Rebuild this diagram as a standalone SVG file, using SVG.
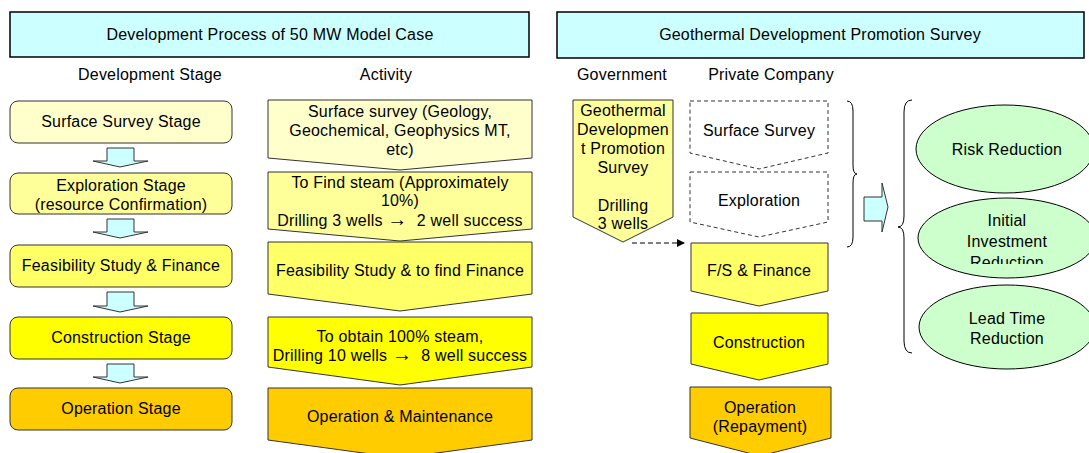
<svg xmlns="http://www.w3.org/2000/svg" width="1089" height="453" viewBox="0 0 1089 453">
<style>
text{font-family:"Liberation Sans",Arial,sans-serif;font-size:16px;letter-spacing:0.2px;fill:#000;text-anchor:middle}
.pre{white-space:pre}
.hdr{fill:#CCFFFF;stroke:#000;stroke-width:1.5}
.st{stroke:#333;stroke-width:1}
.dash{fill:#fff;stroke:#333;stroke-width:1;stroke-dasharray:4,3}
.c1{fill:#FFFFCC}.c2{fill:#FFFF99}.c3{fill:#FFFF66}.c4{fill:#FFFF00}.c5{fill:#FFCC00}
.cy{fill:#CCFFFF;stroke:#333;stroke-width:1}
.gr{fill:#CCFFCC;stroke:#000;stroke-width:1}
.br{fill:none;stroke:#000;stroke-width:1}
</style>
<defs>
<clipPath id="govClip"><rect x="570" y="95" width="110" height="136"/></clipPath>
<clipPath id="invClip"><rect x="900" y="195" width="189" height="69"/></clipPath>
<marker id="ah" markerWidth="8" markerHeight="8" refX="7" refY="4" orient="auto" markerUnits="userSpaceOnUse"><path d="M0,0 L8,4 L0,8 Z" fill="#000"/></marker>
</defs>

<g id="header-left"><rect class="hdr" x="10" y="12" width="519" height="45"/><text x="270" y="40">Development Process of 50 MW Model Case</text></g>
<g id="header-right"><rect class="hdr" x="557" y="12" width="527" height="46"/><text x="820" y="40">Geothermal Development Promotion Survey</text></g>
<g id="col-labels">
<text x="150" y="80">Development Stage</text>
<text x="386" y="80">Activity</text>
<text x="622" y="80">Government</text>
<text x="771" y="80">Private Company</text>
</g>

<g id="stage-surface"><rect class="c1 st" x="10" y="101" width="222" height="42" rx="8"/><text x="121" y="127">Surface Survey Stage</text></g>
<g id="stage-exploration"><rect class="c2 st" x="10" y="173" width="222" height="41" rx="8"/><text x="121" y="191">Exploration Stage</text><text x="121" y="210">(resource Confirmation)</text></g>
<g id="stage-feasibility"><rect class="c3 st" x="10" y="245" width="222" height="42" rx="8"/><text x="121" y="271">Feasibility Study &amp; Finance</text></g>
<g id="stage-construction"><rect class="c4 st" x="10" y="317" width="222" height="42" rx="8"/><text x="121" y="343">Construction Stage</text></g>
<g id="stage-operation"><rect class="c5 st" x="10" y="388" width="222" height="42" rx="8"/><text x="121" y="414">Operation Stage</text></g>

<g id="act-surface"><path class="c1 st" d="M268,100 H532 V158 L400,170 L268,158 Z"/><text x="400" y="117">Surface survey (Geology,</text><text x="400" y="136">Geochemical, Geophysics MT,</text><text x="400" y="155">etc)</text></g>
<g id="act-steam"><path class="c2 st" d="M268,172 H532 V229 L400,241 L268,229 Z"/><text x="400" y="188">To Find steam (Approximately</text><text x="400" y="206">10%)</text><text class="pre" x="400" y="226">Drilling 3 wells <tspan font-size="20">→</tspan>  2 well success</text></g>
<g id="act-fs"><path class="c3 st" d="M268,242 H532 V294 L400,311 L268,294 Z"/><text x="400" y="276">Feasibility Study &amp; to find Finance</text></g>
<g id="act-construction"><path class="c4 st" d="M268,317 H532 V367 L400,385 L268,367 Z"/><text x="400" y="342">To obtain 100% steam,</text><text class="pre" x="400" y="361">Drilling 10 wells <tspan font-size="20">→</tspan>  8 well success</text></g>
<g id="act-operation"><path class="c5 st" d="M268,388 H532 V440 L400,458 L268,440 Z"/><text x="400" y="422">Operation &amp; Maintenance</text></g>

<g id="gov-survey"><path class="c2 st" d="M573,100 H673 V217 L623,242 L573,217 Z"/>
<g clip-path="url(#govClip)"><text x="623" y="116">Geothermal</text><text x="623" y="135">Developmen</text><text x="623" y="154">t Promotion</text><text x="623" y="173">Survey</text><text x="623" y="211">Drilling</text><text x="623" y="229">3 wells</text></g></g>

<g id="pc-surface"><path class="dash" d="M690,101 H828 V153 L759,169 L690,153 Z"/><text x="759" y="136">Surface Survey</text></g>
<g id="pc-exploration"><path class="dash" d="M690,172 H828 V222 L759,237 L690,222 Z"/><text x="759" y="206">Exploration</text></g>
<g id="pc-fs"><path class="c3 st" d="M691,243 H828 V291 L759,306 L691,291 Z"/><text x="759" y="276">F/S &amp; Finance</text></g>
<g id="pc-construction"><path class="c4 st" d="M691,313 H828 V364 L759,380 L691,364 Z"/><text x="759" y="348">Construction</text></g>
<g id="pc-operation"><path class="c5 st" d="M690,387 H831 V438 L760,456 L690,438 Z"/><text x="760" y="413">Operation</text><text x="760" y="432">(Repayment)</text></g>

<g id="risk"><ellipse class="gr" cx="1005" cy="149" rx="89" ry="44"/><text x="1007" y="155">Risk Reduction</text></g>
<g id="investment"><ellipse class="gr" cx="1007" cy="238" rx="89" ry="40"/><g clip-path="url(#invClip)"><text x="1007" y="226">Initial</text><text x="1007" y="247">Investment</text><text x="1007" y="268">Reduction</text></g></g>
<g id="leadtime"><ellipse class="gr" cx="1007" cy="327" rx="88" ry="42"/><text x="1007" y="324">Lead Time</text><text x="1007" y="344">Reduction</text></g>

<g id="connectors">
<path class="cy" d="M107,148 H134 V161 H148 L120,167 L93,161 H107 Z"/>
<path class="cy" d="M107,219 H134 V232 H148 L120,238 L93,232 H107 Z"/>
<path class="cy" d="M107,292 H134 V306 H148 L120,312 L93,306 H107 Z"/>
<path class="cy" d="M107,364 H134 V377 H148 L120,383 L93,377 H107 Z"/>
<line x1="632" y1="243" x2="684" y2="243" stroke="#000" stroke-width="1.2" stroke-dasharray="5,3" marker-end="url(#ah)"/>
<path class="br" d="M847,101 Q853,101 853,111 L853,165 Q853,174 857,174 Q853,174 853,183 L853,237 Q853,247 847,247"/>
<path class="br" d="M912,100 Q904,100 904,112 L904,216 Q904,227 898,227 Q904,227 904,238 L904,341 Q904,353 912,353"/>
<path class="cy" d="M864,197 H882 V183 L888,207 L882,232 V221 H864 Z"/>
</g>
</svg>
